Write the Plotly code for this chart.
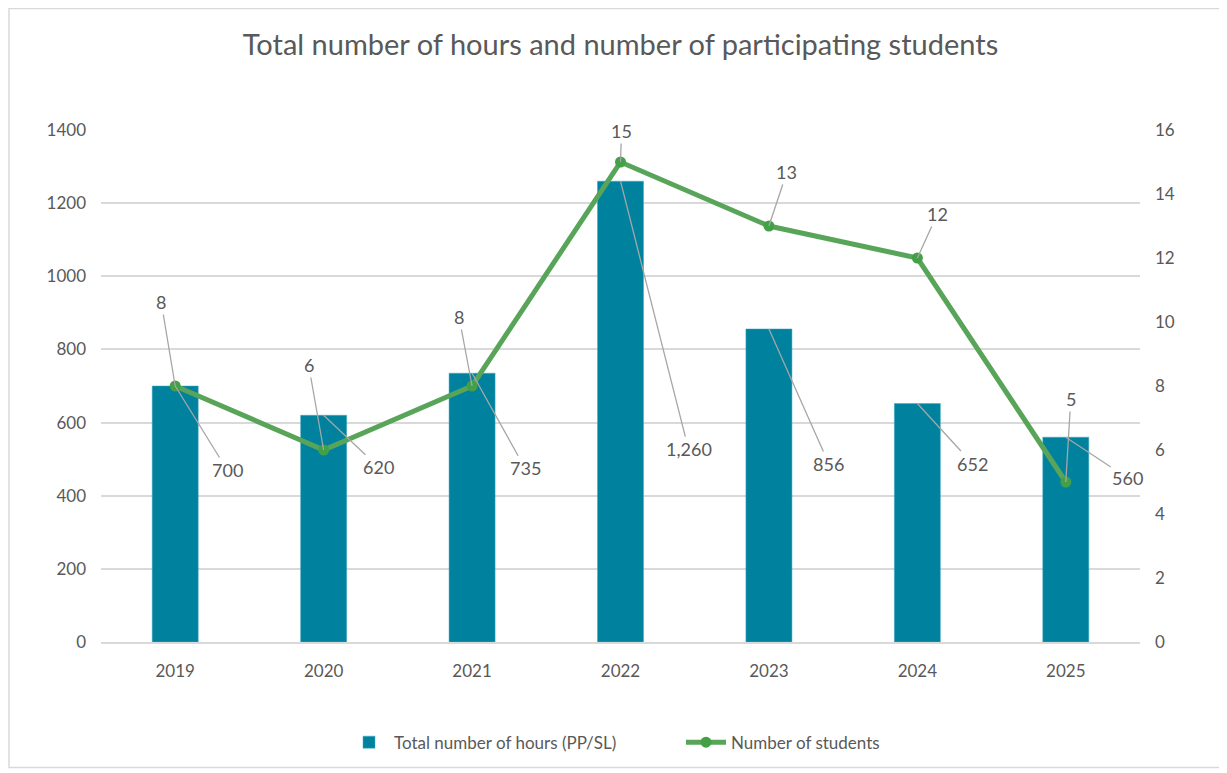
import plotly.graph_objects as go

years = ["2019", "2020", "2021", "2022", "2023", "2024", "2025"]
hours = [700, 620, 735, 1260, 856, 652, 560]
students = [8, 6, 8, 15, 13, 12, 5]
hours_labels = ["700", "620", "735", "1,260", "856", "652", "560"]

# label offsets (pixels) for the Excel-style leader-line labels
hours_off = [(52, 84), (55, 52), (53, 95), (68, 268), (60, 135), (55, 60), (62, 41)]
stud_off = [(-14, -84), (-15, -85), (-13, -69), (1, -31), (18, -54), (20, -44), (5, -83)]

TXT = "#595959"
FONT = "Lato"

W, H = 1219, 765
L, T, PW, PH = 93, 122, 1039, 514
R = W - L - PW
B = H - T - PH
PB = T + PH  # plot bottom in figure px

fig = go.Figure()
fig.add_trace(go.Bar(
    x=years, y=hours, name="Total number of hours (PP/SL)",
    marker=dict(color="#00829F", line=dict(color="#3FA9C3", width=0.5)),
    width=0.31, yaxis="y",
))
fig.add_trace(go.Scatter(
    x=years, y=students, name="Number of students", mode="lines+markers",
    line=dict(color="#58A55A", width=5),
    marker=dict(color="#43A047", size=11),
    yaxis="y2",
))

ann = []
for i, yv in enumerate(years):
    ax, ay = hours_off[i]
    ann.append(dict(x=i, y=hours[i], xref="x", yref="y", text=hours_labels[i],
                    showarrow=True, arrowhead=0, arrowwidth=1.3, arrowcolor="#A6A6A6",
                    ax=ax, ay=ay, font=dict(size=18, color=TXT, family=FONT), standoff=0))
    ax, ay = stud_off[i]
    ann.append(dict(x=i, y=students[i], xref="x", yref="y2", text=str(students[i]),
                    showarrow=True, arrowhead=0, arrowwidth=1.3, arrowcolor="#A6A6A6",
                    ax=ax, ay=ay, font=dict(size=18, color=TXT, family=FONT), standoff=0))

fig.update_layout(
    width=W, height=H,
    margin=dict(l=L, r=R, t=T, b=B),
    paper_bgcolor="white", plot_bgcolor="white",
    font=dict(family=FONT, color=TXT, size=17),
    title=dict(text="Total number of hours and number of participating students",
               x=0.5, xref="paper", xanchor="center", y=1 - 37 / H, yanchor="middle",
               font=dict(size=29, color=TXT, family=FONT)),
    xaxis=dict(type="category", range=[-0.5, 6.5], showgrid=False, ticks="", showline=True,
               linecolor="#D9D9D9", linewidth=1.5, tickfont=dict(size=17, color=TXT),
               ticklabelstandoff=13),
    yaxis=dict(range=[0, 1400], dtick=200, showgrid=True, gridcolor="#D9D9D9",
               gridwidth=1.5, zeroline=False, showline=False, ticks="",
               tickfont=dict(size=17, color=TXT), ticklabelstandoff=14),
    yaxis2=dict(range=[0, 16], dtick=2, overlaying="y", side="right", showgrid=False,
                zeroline=False, showline=False, ticks="",
                tickfont=dict(size=17, color=TXT), ticklabelstandoff=14),
    legend=dict(orientation="h", x=(336 - L) / PW, xanchor="left", y=(PB - 737) / PH,
                yanchor="middle", font=dict(size=17, color=TXT), traceorder="normal",
                entrywidth=282, entrywidthmode="pixels", itemwidth=40),
    annotations=ann,
    showlegend=True,
    shapes=[dict(type="rect", xref="paper", yref="paper",
                 x0=(1 - L) / PW, x1=(1213 - L) / PW,
                 y0=(PB - 762) / PH, y1=(PB - 0) / PH,
                 line=dict(color="#D9D9D9", width=1.5), layer="below")],
)

fig.write_html("out.html")
